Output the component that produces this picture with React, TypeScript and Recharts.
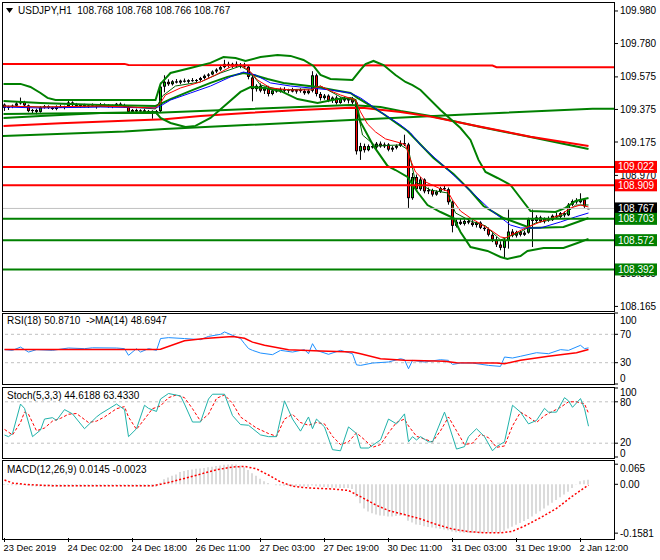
import React from "react";
import { ComposedChart, Bar, Line, XAxis, YAxis, ReferenceLine } from "recharts";

const FONT = "'Liberation Sans', Arial, sans-serif";
const XDOM: [number, number] = [-0.375, 152.375];
const YDOM: [number, number] = [108.143, 110.029];
const GREEN = "#008000";
const RED = "#FF0000";
const BLUE = "#0000FF";

// USDJPY H1, 23 Dec 10:00 .. 2 Jan 14:00 : [open, high, low, close]
const ohlc = [
  [109.405, 109.412, 109.366, 109.385], [109.385, 109.398, 109.372, 109.392], [109.392, 109.405, 109.383, 109.398],
  [109.398, 109.42, 109.39, 109.412], [109.412, 109.448, 109.405, 109.42], [109.42, 109.428, 109.395, 109.4],
  [109.4, 109.405, 109.358, 109.365], [109.365, 109.378, 109.35, 109.372], [109.372, 109.38, 109.345, 109.36],
  [109.36, 109.395, 109.355, 109.388], [109.388, 109.402, 109.38, 109.395], [109.395, 109.4, 109.378, 109.385],
  [109.385, 109.392, 109.372, 109.378], [109.378, 109.4, 109.37, 109.392], [109.392, 109.405, 109.385, 109.388],
  [109.388, 109.398, 109.376, 109.395], [109.395, 109.438, 109.39, 109.418], [109.418, 109.425, 109.396, 109.402],
  [109.402, 109.415, 109.392, 109.396], [109.396, 109.408, 109.385, 109.403], [109.403, 109.41, 109.388, 109.392],
  [109.392, 109.405, 109.384, 109.4], [109.4, 109.412, 109.392, 109.395], [109.395, 109.404, 109.38, 109.398],
  [109.398, 109.415, 109.39, 109.405], [109.405, 109.412, 109.392, 109.398], [109.398, 109.408, 109.386, 109.392],
  [109.392, 109.404, 109.383, 109.4], [109.4, 109.415, 109.394, 109.41], [109.41, 109.418, 109.398, 109.402],
  [109.402, 109.41, 109.385, 109.39], [109.39, 109.395, 109.352, 109.36], [109.36, 109.378, 109.35, 109.372],
  [109.372, 109.38, 109.356, 109.362], [109.362, 109.376, 109.35, 109.37], [109.37, 109.378, 109.354, 109.358],
  [109.358, 109.372, 109.348, 109.366], [109.366, 109.37, 109.318, 109.355], [109.355, 109.372, 109.345, 109.365],
  [109.365, 109.54, 109.358, 109.515], [109.515, 109.585, 109.48, 109.545], [109.545, 109.56, 109.52, 109.53],
  [109.53, 109.555, 109.522, 109.548], [109.548, 109.562, 109.535, 109.54], [109.54, 109.558, 109.53, 109.552],
  [109.552, 109.565, 109.54, 109.545], [109.545, 109.56, 109.535, 109.555], [109.555, 109.568, 109.545, 109.55],
  [109.55, 109.562, 109.54, 109.556], [109.556, 109.575, 109.548, 109.568], [109.568, 109.59, 109.56, 109.582],
  [109.582, 109.598, 109.57, 109.59], [109.59, 109.615, 109.585, 109.608], [109.608, 109.628, 109.598, 109.62],
  [109.62, 109.642, 109.612, 109.635], [109.635, 109.68, 109.628, 109.655], [109.655, 109.668, 109.632, 109.642],
  [109.642, 109.662, 109.63, 109.655], [109.655, 109.67, 109.635, 109.64], [109.64, 109.66, 109.628, 109.65],
  [109.65, 109.662, 109.63, 109.638], [109.638, 109.645, 109.56, 109.575], [109.572, 109.585, 109.425, 109.5],
  [109.5, 109.53, 109.485, 109.52], [109.52, 109.535, 109.48, 109.49], [109.49, 109.515, 109.47, 109.505],
  [109.505, 109.52, 109.455, 109.47], [109.47, 109.5, 109.462, 109.492], [109.492, 109.505, 109.478, 109.485],
  [109.485, 109.51, 109.478, 109.5], [109.5, 109.512, 109.482, 109.49], [109.49, 109.502, 109.475, 109.496],
  [109.496, 109.508, 109.48, 109.485], [109.485, 109.5, 109.472, 109.494], [109.494, 109.505, 109.478, 109.488],
  [109.488, 109.5, 109.465, 109.475], [109.475, 109.498, 109.468, 109.49], [109.49, 109.61, 109.48, 109.585],
  [109.585, 109.595, 109.455, 109.47], [109.47, 109.482, 109.43, 109.445], [109.445, 109.47, 109.435, 109.46],
  [109.46, 109.468, 109.42, 109.43], [109.43, 109.455, 109.415, 109.448], [109.448, 109.46, 109.405, 109.415],
  [109.415, 109.45, 109.41, 109.442], [109.442, 109.455, 109.42, 109.43], [109.43, 109.448, 109.412, 109.44],
  [109.44, 109.452, 109.405, 109.418], [109.418, 109.428, 109.098, 109.118], [109.118, 109.17, 109.065, 109.15],
  [109.15, 109.165, 109.11, 109.125], [109.125, 109.16, 109.118, 109.15], [109.15, 109.165, 109.135, 109.142],
  [109.142, 109.175, 109.13, 109.165], [109.165, 109.178, 109.14, 109.148], [109.148, 109.172, 109.138, 109.16],
  [109.16, 109.168, 109.118, 109.128], [109.128, 109.15, 109.115, 109.14], [109.14, 109.16, 109.13, 109.152],
  [109.152, 109.185, 109.145, 109.168], [109.168, 109.22, 109.15, 109.16], [109.16, 109.17, 108.77, 108.83],
  [108.83, 108.985, 108.82, 108.96], [108.96, 108.975, 108.87, 108.885], [108.885, 108.96, 108.875, 108.945],
  [108.945, 108.952, 108.86, 108.872], [108.872, 108.895, 108.855, 108.88], [108.88, 108.888, 108.84, 108.852],
  [108.852, 108.878, 108.845, 108.87], [108.87, 108.9, 108.862, 108.892], [108.892, 108.905, 108.875, 108.885],
  [108.885, 108.895, 108.79, 108.805], [108.805, 108.815, 108.62, 108.66], [108.66, 108.7, 108.65, 108.685],
  [108.685, 108.705, 108.665, 108.672], [108.672, 108.7, 108.662, 108.69], [108.69, 108.705, 108.67, 108.68],
  [108.68, 108.695, 108.655, 108.665], [108.665, 108.69, 108.65, 108.68], [108.68, 108.688, 108.64, 108.648],
  [108.648, 108.665, 108.628, 108.64], [108.64, 108.65, 108.595, 108.605], [108.605, 108.615, 108.56, 108.575],
  [108.575, 108.592, 108.53, 108.545], [108.545, 108.565, 108.51, 108.525], [108.525, 108.585, 108.46, 108.57],
  [108.57, 108.76, 108.52, 108.625], [108.625, 108.64, 108.59, 108.6], [108.6, 108.63, 108.588, 108.622],
  [108.622, 108.635, 108.595, 108.605], [108.605, 108.63, 108.598, 108.618], [108.618, 108.71, 108.612, 108.7],
  [108.7, 108.76, 108.53, 108.69], [108.69, 108.725, 108.678, 108.712], [108.712, 108.722, 108.68, 108.688],
  [108.688, 108.712, 108.675, 108.705], [108.705, 108.718, 108.685, 108.695], [108.695, 108.73, 108.69, 108.722],
  [108.722, 108.742, 108.705, 108.715], [108.715, 108.745, 108.708, 108.738], [108.738, 108.748, 108.712, 108.725],
  [108.725, 108.8, 108.72, 108.79], [108.79, 108.822, 108.78, 108.812], [108.812, 108.83, 108.795, 108.805],
  [108.805, 108.86, 108.798, 108.822], [108.822, 108.828, 108.77, 108.78], [108.768, 108.768, 108.766, 108.767],
];

// overlays: [bar, price]
const resistTop = [[-0.375, 109.655], [30, 109.655], [31, 109.648], [122, 109.645], [123, 109.635], [152.4, 109.635]];
const trendGreen = [[-0.375, 109.212], [30, 109.239], [40, 109.255], [86.5, 109.31], [116.5, 109.345], [147, 109.38], [152.4, 109.38]];
const ma200 = [[-0.25, 109.274], [14, 109.29], [30, 109.306], [40, 109.315], [49, 109.335], [61.5, 109.355], [74, 109.372], [86.5, 109.386], [90, 109.384], [99, 109.36], [106.5, 109.331], [119, 109.269], [131.5, 109.208], [146, 109.151]];
const ma100 = [[-0.25, 109.347], [24, 109.353], [36.5, 109.353], [61.5, 109.378], [86.5, 109.403], [94, 109.39], [99, 109.366], [106.5, 109.335], [119, 109.267], [131.5, 109.206], [146, 109.132]];
const bbUpper = [[-0.25, 109.532], [4, 109.532], [6.5, 109.513], [9, 109.476], [10.75, 109.446], [12.75, 109.433], [37.75, 109.433], [39, 109.532], [41.5, 109.599], [46.5, 109.63], [51.5, 109.661], [54.75, 109.697], [57.75, 109.691], [60.25, 109.673], [64, 109.697], [68.25, 109.71], [71.5, 109.704], [74.75, 109.679], [77.25, 109.642], [79, 109.587], [81.5, 109.562], [87, 109.556], [89, 109.618], [90.25, 109.654], [92.25, 109.673], [94.75, 109.648], [97.75, 109.587], [100.25, 109.544], [102, 109.525], [104, 109.495], [109, 109.372], [114, 109.261], [116.5, 109.188], [118.5, 109.065], [120.25, 108.991], [123.25, 108.954], [126.5, 108.911], [129, 108.831], [131.5, 108.751], [137.75, 108.745], [140.25, 108.77], [142.75, 108.813], [146, 108.831]];
const bbMid = [[-0.25, 109.427], [9, 109.415], [24, 109.403], [37.75, 109.396], [39, 109.409], [41.5, 109.439], [46.5, 109.489], [51.5, 109.538], [55.75, 109.575], [59.75, 109.599], [62.25, 109.587], [65.75, 109.562], [69.75, 109.538], [74, 109.525], [78.25, 109.513], [82.25, 109.495], [86.5, 109.476], [88.25, 109.446], [90.75, 109.409], [94.75, 109.347], [100.75, 109.243], [107.25, 109.077], [112.25, 108.979], [116.5, 108.874], [119.75, 108.782], [124.75, 108.708], [131.5, 108.647], [139.75, 108.653], [143.25, 108.684], [146, 108.708]];
const bbLower = [[-0.25, 109.323], [9, 109.335], [24, 109.353], [37.75, 109.36], [39, 109.323], [41.5, 109.292], [45.25, 109.268], [47.75, 109.274], [51.5, 109.323], [55.25, 109.403], [59, 109.483], [61.5, 109.513], [65.25, 109.507], [69, 109.489], [73.25, 109.439], [78.25, 109.415], [83.25, 109.439], [86.5, 109.446], [87.75, 109.433], [89, 109.298], [92.25, 109.151], [95.75, 109.028], [97.75, 109.003], [100.75, 108.96], [103.25, 108.868], [105.75, 108.788], [109, 108.745], [112.25, 108.708], [114, 108.622], [116.5, 108.53], [120.75, 108.506], [124, 108.469], [125.75, 108.457], [129, 108.475], [130.75, 108.506], [134.75, 108.524], [139.75, 108.524], [143.25, 108.555], [146, 108.58]];
const maGreen = [[-0.25, 109.396], [9, 109.39], [19, 109.39], [29, 109.396], [37.75, 109.378], [39.5, 109.458], [42.75, 109.519], [49, 109.544], [54, 109.599], [59, 109.642], [61.5, 109.605], [64, 109.525], [69, 109.495], [76.5, 109.501], [79, 109.519], [84, 109.452], [87.75, 109.427], [89.5, 109.218], [92.75, 109.151], [99, 109.157], [101, 109.126], [102.75, 108.93], [106.5, 108.88], [110.75, 108.862], [112.75, 108.739], [116.5, 108.69], [120.25, 108.66], [124, 108.573], [126.5, 108.598], [129, 108.622], [132.75, 108.678], [136.5, 108.696], [140.25, 108.733], [142.75, 108.788], [146, 108.788]];
const maRed = [[-0.25, 109.396], [9, 109.39], [24, 109.396], [37.75, 109.384], [39, 109.415], [40.25, 109.464], [44, 109.507], [49, 109.544], [52.75, 109.587], [56.5, 109.636], [59, 109.648], [61, 109.618], [63.25, 109.556], [66.5, 109.507], [71.5, 109.495], [76.5, 109.495], [79, 109.519], [81.5, 109.489], [84, 109.464], [87.75, 109.433], [89, 109.36], [90.75, 109.286], [92.75, 109.237], [95.25, 109.194], [99, 109.169], [100.25, 109.157], [101.5, 109.065], [102.75, 108.991], [105.25, 108.93], [109, 108.887], [110.75, 108.874], [112, 108.819], [114, 108.751], [116.5, 108.708], [119, 108.672], [121.5, 108.635], [124, 108.592], [125.25, 108.586], [127.75, 108.616], [130.25, 108.647], [134, 108.684], [139, 108.727], [141.5, 108.77], [144, 108.788], [146, 108.776]];
const maBlue = [[-0.25, 109.39], [9, 109.384], [24, 109.39], [37.75, 109.384], [39, 109.396], [41.5, 109.433], [46.5, 109.476], [51.5, 109.519], [56.5, 109.575], [59.75, 109.605], [62.75, 109.587], [66.5, 109.538], [71.5, 109.519], [76.5, 109.507], [81.5, 109.495], [86.5, 109.476], [89, 109.446], [94, 109.36], [99, 109.28], [101.5, 109.231], [104, 109.157], [109, 109.046], [112.75, 108.96], [116.5, 108.874], [121.5, 108.758], [126.5, 108.665], [129, 108.647], [134, 108.647], [139, 108.684], [142.75, 108.715], [146, 108.739]];

const levels = [
  { p: 109.022, color: RED, tag: "109.022" },
  { p: 108.909, color: RED, tag: "108.909" },
  { p: 108.703, color: GREEN, tag: "108.703" },
  { p: 108.572, color: GREEN, tag: "108.572" },
  { p: 108.392, color: GREEN, tag: "108.392" },
];
const bid = 108.767;
// 108.770 and 108.570 sit fully under the price tags in the reference
const priceTicks = [109.98, 109.78, 109.575, 109.375, 109.175, 108.97, 108.365, 108.165];

const rsi = [[0, 48.4], [2, 47.4], [4, 52], [6, 45], [8, 48.4], [12, 47.4], [16, 50.7], [20, 49.8], [22, 51], [28, 50.7], [30, 49.8], [31, 40.4], [33, 49.8], [34, 45], [36, 49.8], [38, 47.4], [39, 64], [41, 65.3], [45, 64], [49, 62.5], [51, 67], [54, 70], [55, 73.3], [57, 68.6], [59, 64], [60, 56.8], [61, 50], [62, 47.4], [64, 43.6], [67, 41.3], [69, 47.4], [72, 45], [75, 48.4], [76, 42.7], [77, 56.8], [78, 47.4], [81, 41.8], [84, 47.4], [87, 42.7], [88, 27], [89, 26.2], [92, 29.5], [96, 31], [99, 35.6], [100, 34.2], [101, 21.5], [102, 33.3], [105, 31], [109, 34.2], [111, 33.3], [112, 27.6], [114, 29.5], [117, 29.5], [121, 26.2], [124, 24.8], [125, 38], [127, 36.6], [129, 39], [133, 44.1], [136, 42.7], [139, 48.4], [141, 47.4], [144, 54.5], [145, 49.8], [146, 50.871]];
const rsiMa = [[0, 48.5], [37, 48.5], [39, 49], [45, 61], [50, 64], [57, 67], [60, 64.5], [62, 59], [65, 54.5], [71, 48.4], [79, 46.5], [87, 45], [89, 42.7], [94, 35.6], [100, 33.3], [110, 32], [113, 30], [123, 29.5], [125, 28.6], [129, 33.3], [136, 39], [143, 44], [146, 48.695]];

const stochMain = [[0, 31.8], [1, 29.5], [2, 34], [4, 76.7], [5, 70.5], [7, 29.5], [9, 39], [10, 55], [12, 57], [13, 53], [15, 68.7], [17, 62.5], [20, 41], [23, 58], [24, 62.5], [28, 76.7], [30, 68.7], [31, 29.5], [33, 41], [35, 75], [36, 70.5], [38, 66], [39, 84], [41, 92], [44, 88.5], [45, 76.7], [47, 50.7], [49, 50.7], [51, 84], [52, 91], [55, 91], [57, 60], [59, 47], [61, 46], [64, 32], [66, 29.5], [68, 29.5], [70, 81.4], [72, 55], [74, 37.5], [76, 58], [77, 41], [78, 55], [80, 43.6], [82, 10.6], [84, 9], [86, 43.6], [88, 34], [89, 13], [91, 13], [94, 24.7], [96, 55], [98, 48], [100, 62.5], [101, 22], [102, 29.5], [103, 24.7], [104, 29.5], [106, 22], [107, 22], [110, 65], [111, 48], [113, 11.5], [115, 15], [116, 29.5], [118, 41], [120, 29.5], [122, 9], [123, 15], [125, 22], [127, 75], [129, 65], [131, 48], [133, 53], [135, 70.5], [136, 65], [138, 65], [140, 86], [141, 81.4], [142, 72], [144, 84.7], [145, 70], [146, 44.619]];
const stochSignal = [[0, 40], [2, 32], [4, 50], [5, 65], [6, 62], [8, 38], [10, 42], [12, 52], [14, 56], [16, 62], [18, 63], [21, 50], [23, 52], [25, 58], [28, 70], [30, 73], [31, 58], [33, 40], [35, 55], [37, 70], [39, 74], [41, 86], [43, 90], [45, 86], [47, 70], [49, 52], [51, 62], [53, 85], [55, 90], [57, 78], [59, 58], [61, 50], [63, 42], [66, 34], [68, 30], [70, 55], [72, 62], [74, 50], [76, 46], [78, 50], [80, 48], [82, 30], [84, 18], [86, 22], [88, 35], [90, 25], [92, 14], [94, 18], [96, 35], [98, 50], [100, 55], [101, 45], [103, 30], [105, 26], [107, 22], [109, 38], [111, 58], [113, 38], [115, 18], [117, 20], [119, 33], [121, 28], [123, 14], [125, 16], [127, 45], [129, 65], [131, 58], [133, 50], [135, 60], [137, 66], [139, 72], [141, 80], [143, 80], [145, 77], [146, 63.433]];

const macdHist = [
  -0.002, -0.002, -0.003, -0.003, -0.002, -0.003, -0.005, -0.006, -0.007, -0.007,
  -0.007, -0.007, -0.008, -0.008, -0.008, -0.008, -0.007, -0.007, -0.007, -0.007,
  -0.007, -0.007, -0.007, -0.007, -0.006, -0.006, -0.006, -0.006, -0.005, -0.005,
  -0.005, -0.006, -0.007, -0.007, -0.007, -0.008, -0.008, -0.008, -0.008, 0.005,
  0.016, 0.022, 0.028, 0.032, 0.04, 0.043, 0.046, 0.048, 0.05, 0.051,
  0.053, 0.055, 0.057, 0.059, 0.061, 0.063, 0.064, 0.065, 0.064, 0.061,
  0.055, 0.046, 0.036, 0.028, 0.018, 0.01, 0.004, 0.0, -0.003, -0.004,
  -0.005, -0.005, -0.006, -0.006, -0.007, -0.007, -0.008, -0.004, -0.006, -0.008,
  -0.009, -0.01, -0.011, -0.011, -0.012, -0.012, -0.012, -0.015, -0.04, -0.061,
  -0.078, -0.088, -0.094, -0.098, -0.101, -0.102, -0.104, -0.104, -0.103, -0.102,
  -0.1, -0.118, -0.124, -0.13, -0.132, -0.136, -0.138, -0.14, -0.142, -0.144,
  -0.146, -0.149, -0.153, -0.155, -0.156, -0.157, -0.157, -0.158, -0.158, -0.1581,
  -0.157, -0.157, -0.157, -0.157, -0.156, -0.15, -0.143, -0.137, -0.131, -0.125,
  -0.119, -0.112, -0.104, -0.095, -0.087, -0.078, -0.069, -0.06, -0.051, -0.042,
  -0.033, -0.024, -0.012, -0.001, 0.01, 0.013, 0.0145,
];
const macdSignal = [[0, 0.014], [2, 0.004], [5, 0.0], [10, -0.004], [15, -0.005], [37, -0.005], [39, 0.0], [42, 0.009], [45, 0.019], [49, 0.033], [53, 0.047], [57, 0.056], [60, 0.058], [63, 0.05], [66, 0.03], [69, 0.008], [72, -0.006], [76, -0.012], [82, -0.015], [86, -0.02], [89, -0.04], [93, -0.068], [96, -0.085], [100, -0.098], [104, -0.112], [108, -0.13], [112, -0.145], [116, -0.153], [120, -0.157], [124, -0.157], [127, -0.152], [130, -0.135], [134, -0.108], [138, -0.078], [142, -0.038], [146, -0.0023]];

const dateTicks = [0, 16, 32, 48, 64, 80, 96, 112, 128, 144];
const dateLabels = ["23 Dec 2019", "24 Dec 02:00", "24 Dec 18:00", "26 Dec 11:00", "27 Dec 03:00", "27 Dec 19:00", "30 Dec 11:00", "31 Dec 03:00", "31 Dec 19:00", "2 Jan 12:00"];

const pts = (a: number[][]) => a.map(([x, v]) => ({ x, v }));
const candleData = ohlc.map(([o, h, l, c], i) => ({ x: i, rng: [l, h], o, h, l, c }));
const macdData = macdHist.map((v, i) => ({ x: i, hist: v }));

function Candle(props: any) {
  const { x, y, width, height, payload } = props;
  if (x == null || !payload) return null;
  const { o, h, l, c } = payload;
  const k = h > l ? height / (h - l) : 0;
  const cx = x + width / 2;
  const top = y + (h - Math.max(o, c)) * k;
  const bh = Math.max(1, Math.abs(o - c) * k);
  return (
    <g>
      <line x1={cx} x2={cx} y1={y} y2={y + Math.max(height, 1)} stroke="#000" />
      <rect x={cx - 1.5} y={top} width={3} height={bh} fill="#000" />
      {bh > 2 && <rect x={cx - 0.5} y={top + 1} width={1} height={bh - 2} fill={c >= o ? "#00C000" : RED} />}
    </g>
  );
}

function AxisLabel(props: any) {
  const { x, y, payload, fmt, shift } = props;
  const v = payload.value;
  const dy = (shift && shift[String(v)]) || 0;
  return (
    <text x={x} y={y + dy} dy={3.5} fontSize={10} fontFamily={FONT} fill="#000" textAnchor="start">
      {fmt(v)}
    </text>
  );
}

function DateLabel(props: any) {
  const { x, y, payload } = props;
  const i = dateTicks.indexOf(payload.value);
  return (
    <text x={x - 1} y={y} dy={7} fontSize={9.3} fontFamily={FONT} fill="#000" textAnchor="start">
      {dateLabels[i]}
    </text>
  );
}

function PriceTag(props: any) {
  const { viewBox, tag, bg } = props;
  if (!viewBox) return null;
  const left = viewBox.x + viewBox.width + 1;
  return (
    <g>
      <rect x={left} y={viewBox.y - 6} width={42} height={12} fill={bg} />
      <text x={left + 3} y={viewBox.y + 3.5} fontSize={10} fontFamily={FONT} fill="#fff">{tag}</text>
    </g>
  );
}

const lineProps = { type: "linear" as const, dataKey: "v", dot: false, activeDot: false, isAnimationActive: false };

const frame = (top: number, height: number) => (
  <div style={{ position: "absolute", left: 2, top, width: 613, height, border: "1px solid #000", boxSizing: "border-box", pointerEvents: "none" }} />
);
const caption = (top: number, text: string, left = 7) => (
  <div style={{ position: "absolute", left, top, fontFamily: FONT, fontSize: 10, lineHeight: "12px", whiteSpace: "pre", color: "#000" }}>{text}</div>
);

export default function App() {
  return (
    <div style={{ position: "absolute", left: 0, top: 0, width: 660, height: 560, background: "#fff", overflow: "hidden" }}>
      <div style={{ position: "absolute", left: 0, top: 0 }}>
        <ComposedChart width={660} height={315} data={candleData} margin={{ top: 3, right: 0, bottom: 5, left: 3 }}>
          <XAxis dataKey="x" type="number" domain={XDOM} allowDataOverflow hide />
          <YAxis orientation="right" width={46} type="number" domain={YDOM} allowDataOverflow
            ticks={priceTicks} interval={0} axisLine={false} tickSize={4} tickLine={{ stroke: "#000" }}
            tick={<AxisLabel fmt={(v: number) => v.toFixed(3)} />} />
          <Bar dataKey="rng" barSize={3} shape={<Candle />} isAnimationActive={false} />
          <Line {...lineProps} data={pts(trendGreen)} stroke={GREEN} strokeWidth={2} />
          <Line {...lineProps} data={pts(ma100)} stroke={GREEN} strokeWidth={2} />
          <Line {...lineProps} data={pts(ma200)} stroke={RED} strokeWidth={2} />
          <Line {...lineProps} data={pts(resistTop)} stroke={RED} strokeWidth={2} />
          <Line {...lineProps} data={pts(bbUpper)} stroke={GREEN} strokeWidth={2} />
          <Line {...lineProps} data={pts(bbMid)} stroke={GREEN} strokeWidth={2} />
          <Line {...lineProps} data={pts(bbLower)} stroke={GREEN} strokeWidth={2} />
          <Line {...lineProps} data={pts(maGreen)} stroke="#006400" strokeWidth={1} />
          <Line {...lineProps} data={pts(maBlue)} stroke={BLUE} strokeWidth={1} />
          <Line {...lineProps} data={pts(maRed)} stroke={RED} strokeWidth={1} />
        </ComposedChart>
      </div>

      {/* level lines and their price tags, drawn above the axis labels */}
      <div style={{ position: "absolute", left: 0, top: 0 }}>
        <ComposedChart width={660} height={315} data={candleData} margin={{ top: 3, right: 46, bottom: 5, left: 3 }}>
          <XAxis dataKey="x" type="number" domain={XDOM} allowDataOverflow hide />
          <YAxis type="number" domain={YDOM} allowDataOverflow hide />
          <ReferenceLine y={bid} stroke="#C0C0C0" strokeWidth={1} label={<PriceTag tag="108.767" bg="#000" />} />
          {levels.map((lv) => (
            <ReferenceLine key={lv.tag} y={lv.p} stroke={lv.color} strokeWidth={2} label={<PriceTag tag={lv.tag} bg={lv.color} />} />
          ))}
        </ComposedChart>
      </div>

      <div style={{ position: "absolute", left: 0, top: 300 }}>
        <ComposedChart width={660} height={100} margin={{ top: 13, right: 0, bottom: 16, left: 3 }}>
          <XAxis dataKey="x" type="number" domain={XDOM} allowDataOverflow hide />
          <YAxis orientation="right" width={46} type="number" domain={[0, 100]} allowDataOverflow ticks={[100, 70, 30, 0]}
            interval={0} axisLine={false} tickSize={4} tickLine={{ stroke: "#000" }}
            tick={<AxisLabel fmt={(v: number) => String(v)} shift={{ "100": 7, "0": -6 }} />} />
          <ReferenceLine y={70} stroke="#C0C0C0" strokeDasharray="3 3" />
          <ReferenceLine y={30} stroke="#C0C0C0" strokeDasharray="3 3" />
          <Line {...lineProps} data={pts(rsi)} stroke="#1E90FF" strokeWidth={1} />
          <Line {...lineProps} data={pts(rsiMa)} stroke={RED} strokeWidth={1.5} />
        </ComposedChart>
      </div>

      <div style={{ position: "absolute", left: 0, top: 380 }}>
        <ComposedChart width={660} height={85} margin={{ top: 8, right: 0, bottom: 8, left: 3 }}>
          <XAxis dataKey="x" type="number" domain={XDOM} allowDataOverflow hide />
          <YAxis orientation="right" width={46} type="number" domain={[0, 100]} allowDataOverflow ticks={[100, 80, 20, 0]}
            interval={0} axisLine={false} tickSize={4} tickLine={{ stroke: "#000" }}
            tick={<AxisLabel fmt={(v: number) => String(v)} shift={{ "100": 4, "80": 1, "20": -1, "0": -4 }} />} />
          <ReferenceLine y={80} stroke="#C0C0C0" strokeDasharray="3 3" />
          <ReferenceLine y={20} stroke="#C0C0C0" strokeDasharray="3 3" />
          <Line {...lineProps} data={pts(stochSignal)} stroke={RED} strokeWidth={1} strokeDasharray="3 2" />
          <Line {...lineProps} data={pts(stochMain)} stroke="#20B2AA" strokeWidth={1} />
        </ComposedChart>
      </div>

      <div style={{ position: "absolute", left: 0, top: 455 }}>
        <ComposedChart width={660} height={105} data={macdData} margin={{ top: 6, right: 0, bottom: 2, left: 3 }}>
          <XAxis dataKey="x" type="number" domain={XDOM} allowDataOverflow ticks={dateTicks} interval={0}
            axisLine={false} tickSize={4} tickLine={{ stroke: "#000" }} height={20} tick={<DateLabel />} />
          <YAxis orientation="right" width={46} type="number" domain={[-0.1738, 0.0754]} allowDataOverflow
            ticks={[0.065, 0, -0.1581]} interval={0} axisLine={false} tickSize={4} tickLine={{ stroke: "#000" }}
            tick={<AxisLabel fmt={(v: number) => (v === 0 ? "0.00" : String(v))} shift={{ "0.065": 4 }} />} />
          <Bar dataKey="hist" barSize={1} fill="#B8B8B8" isAnimationActive={false} />
          <Line {...lineProps} data={pts(macdSignal)} stroke={RED} strokeWidth={1.5} strokeDasharray="2 2" />
        </ComposedChart>
      </div>

      {frame(2, 310)}
      {frame(313, 72)}
      {frame(387, 72)}
      {frame(460, 80)}

      <svg style={{ position: "absolute", left: 6, top: 8 }} width={8} height={6}>
        <polygon points="0,0 7,0 3.5,5" fill="#000" />
      </svg>
      {caption(5, "USDJPY,H1  108.768 108.768 108.766 108.767", 18)}
      {caption(315, "RSI(18) 50.8710  ->MA(14) 48.6947")}
      {caption(390, "Stoch(5,3,3) 44.6188 63.4330")}
      {caption(464, "MACD(12,26,9) 0.0145 -0.0023")}
    </div>
  );
}
